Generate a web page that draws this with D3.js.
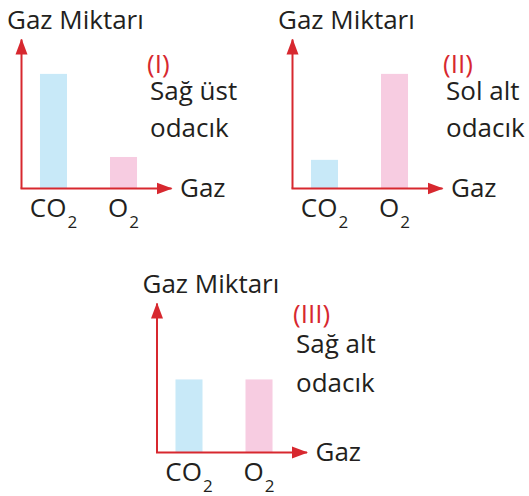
<!DOCTYPE html>
<html>
<head>
<meta charset="utf-8">
<script src="https://cdn.jsdelivr.net/npm/d3@7"></script>
<style>
  body { margin: 0; background: #fff; }
  text { font-family: "Open Sans", "Noto Sans", sans-serif; fill: #231f20; }
</style>
</head>
<body>
<svg id="chart" width="529" height="496"></svg>
<script>
(function() {

// data
var gases = ["CO2", "O2"];
var co2Values = [4, 1, 2.55];
var o2Values = [1.1, 4, 2.55];
var panelTags = ["(I)", "(II)", "(III)"];
var panelNotes = [["Sağ üst", "odacık"], ["Sol alt", "odacık"], ["Sağ alt", "odacık"]];
var yTitle = "Gaz Miktarı";
var xTitle = "Gaz";

// where each little chart sits (axis origin) and where its note goes
var layout = [
  {x: 21.5,  y: 188.5, noteX: 147, noteY: 73,  gap1: 27, gap2: 37},
  {x: 292.5, y: 188.5, noteX: 443, noteY: 73,  gap1: 27, gap2: 37},
  {x: 157,   y: 452.5, noteX: 293, noteY: 323, gap1: 30, gap2: 39}
];

var red = "#d7282f";
var colours = {CO2: "#c8e9f8", O2: "#f7cce1"};

var axisH = 149, axisW = 150;
var fs = "26px";

var svg = d3.select("#chart");

var defs = svg.append("defs");
defs.append("marker")
    .attr("id", "arrow")
    .attr("markerUnits", "userSpaceOnUse")
    .attr("viewBox", "0 -7 16 14")
    .attr("refX", 15)
    .attr("refY", 0)
    .attr("markerWidth", 16)
    .attr("markerHeight", 14)
    .attr("orient", "auto")
  .append("path")
    .attr("d", "M0,-6L16,0L0,6Z")
    .attr("fill", red);

var x_scale = d3.scaleBand()
    .domain(gases)
    .range([0, 134])
    .paddingInner(0.614)
    .paddingOuter(0.264);

var y_scale = d3.scaleLinear()
    .domain([0, 5.2])
    .range([0, -axisH]);

layout.forEach(function(p, i) {
  var g = svg.append("g")
      .attr("transform", "translate(" + p.x + "," + p.y + ")");

  var vals = [{gas: "CO2", v: co2Values[i]}, {gas: "O2", v: o2Values[i]}];

  g.selectAll(".bar")
    .data(vals)
    .enter().append("rect")
      .attr("class", "bar")
      .attr("x", function(d) { return x_scale(d.gas); })
      .attr("width", x_scale.bandwidth())
      .attr("y", function(d) { return y_scale(d.v); })
      .attr("height", function(d) { return -y_scale(d.v); })
      .attr("fill", function(d) { return colours[d.gas]; });

  // axes with arrows
  g.append("line")
      .attr("x1", 0).attr("y1", 0)
      .attr("x2", 0).attr("y2", -axisH)
      .attr("stroke", red).attr("stroke-width", 2)
      .attr("marker-end", "url(#arrow)");
  g.append("line")
      .attr("x1", -1).attr("y1", 0)
      .attr("x2", axisW).attr("y2", 0)
      .attr("stroke", red).attr("stroke-width", 2)
      .attr("marker-end", "url(#arrow)");

  // category labels with subscript 2
  var lab = g.selectAll(".lab")
    .data(gases)
    .enter().append("text")
      .attr("class", "lab")
      .attr("x", function(d) { return x_scale(d) + x_scale.bandwidth() / 2; })
      .attr("y", 28.5)
      .attr("text-anchor", "middle")
      .style("font-size", fs);
  lab.append("tspan").text(function(d) { return d.replace("2", ""); });
  lab.append("tspan")
      .attr("dx", 1)
      .attr("dy", 11)
      .style("font-size", "17px")
      .text("2");

  g.append("text")
      .attr("x", -14.5)
      .attr("y", -axisH - 11)
      .style("font-size", fs)
      .text(yTitle);

  g.append("text")
      .attr("x", axisW + 8.5)
      .attr("y", 8.5)
      .style("font-size", fs)
      .text(xTitle);

  svg.append("text")
      .attr("x", p.noteX)
      .attr("y", p.noteY)
      .style("font-size", fs)
      .style("fill", red)
      .text(panelTags[i]);

  svg.selectAll(".note" + i)
    .data(panelNotes[i])
    .enter().append("text")
      .attr("class", "note" + i)
      .attr("x", p.noteX + 3)
      .attr("y", function(d, j) { return p.noteY + p.gap1 + j * p.gap2; })
      .style("font-size", fs)
      .text(function(d) { return d; });
});

})();
</script>
</body>
</html>
